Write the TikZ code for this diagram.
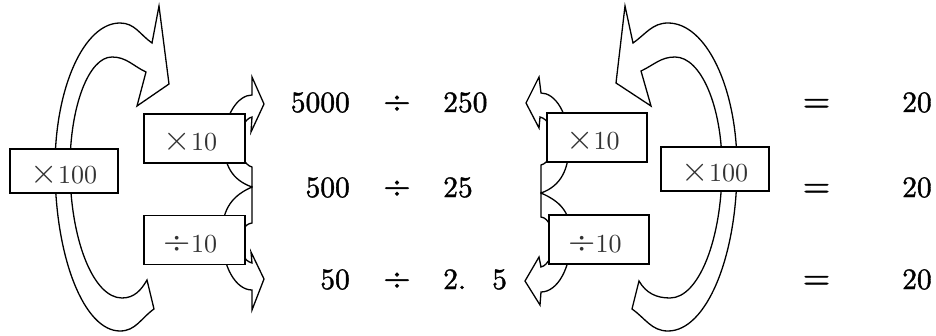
\documentclass[tikz,border=0pt]{standalone}
\usepackage{graphicx}
\usepackage{fontspec}
\newfontfamily\lmten{lmroman10-regular}[Extension=.otf]
\newfontfamily\lmnum{lmroman10-regular}[Extension=.otf, FakeBold=1.3]
\tikzset{
  box/.style={draw, fill=white, line width=1.5pt, inner sep=0pt, text height=25pt, text depth=0pt, font=\lmten\fontsize{26}{30}\selectfont, text=black!80},
  bigbox/.style={box, minimum width=108pt, minimum height=44pt},
  smallbox/.style={box, minimum width=101pt, minimum height=49pt},
  band/.style={draw, fill=white, line width=1.3pt, line join=miter},
  num/.style={inner sep=0pt, font=\lmnum\fontsize{29.5}{36}\selectfont},
}
\newcommand{\bigx}{\scalebox{1.35}{×}}
\newcommand{\bigdv}{\scalebox{1.35}{÷}}
\newcommand{\rowdv}{\scalebox{1.2}{÷}}
\newcommand{\roweq}{\scalebox{1.2}{=}}
\begin{document}
\begin{tikzpicture}[x=1pt,y=1pt]
\useasboundingbox (0,0) rectangle (936,335);

% big left arrow
\draw[band] (152,292) -- (159,329) -- (169,251) -- (137,229) -- (146,263)
  to[out=155,in=0] (112,278)
  .. controls (88.8,278) and (70,228.7) .. (70,168)
  .. controls (70,95.7) and (93.3,37) .. (122,37)
  to[out=0,in=240] (147,55)
  -- (154,26)
  to[out=215,in=0] (120,4)
  .. controls (84.1,4) and (55,77.5) .. (55,168)
  .. controls (55,247.5) and (84.1,312) .. (120,312)
  to[out=0,in=145] (152,292) -- cycle;

% big right arrow
\draw[band] (633,292) -- (625,329) -- (616,252) -- (651,229) -- (641,264)
  to[out=25,in=180] (675,278)
  .. controls (700.9,278) and (722,228.7) .. (722,168)
  .. controls (722,95.7) and (698.7,37) .. (670,37)
  to[out=180,in=-60] (639,54)
  -- (632,26)
  to[out=-35,in=180] (668,4)
  .. controls (706.1,4) and (737,77.5) .. (737,168)
  .. controls (737,247.5) and (706.1,312) .. (668,312)
  to[out=180,in=35] (633,292) -- cycle;

% small left arrows
\draw[band] (252,148) .. controls (232,155) and (224,170) .. (224,192)
  .. controls (224,220) and (238,240) .. (252,240)
  -- (252,258) -- (264,231) -- (251,203) -- (252,218)
  .. controls (236,214) and (236,172) .. (252,168) -- cycle;
\draw[band] (252,148) .. controls (234,140) and (222,128) .. (222,100)
  .. controls (222,68) and (236,45) .. (252,45)
  -- (252,25) -- (264,56) -- (251,83) -- (252,72)
  .. controls (236,76) and (236,110) .. (252,112) -- cycle;

% small right arrows
\draw[band] (541,142) .. controls (561,149) and (569,166) .. (569,190)
  .. controls (569,222) and (555,242) .. (541,242)
  -- (539,258) -- (526,232) -- (539,207) -- (540,218)
  .. controls (557,214) and (557,174) .. (541,170) -- cycle;
\draw[band] (541,142) .. controls (559,134) and (571,124) .. (571,98)
  .. controls (571,66) and (557,43) .. (541,43)
  -- (540,30) -- (525,54) -- (539,78) -- (541,68)
  .. controls (557,72) and (557,116) .. (541,118) -- cycle;

% boxes
\node[bigbox] (m100L) at (64,164) {\bigx100};
\node[smallbox] (m10L) at (194.5,196.5) {\bigx10\hspace*{8pt}};
\node[smallbox] (d10L) at (194.5,95) {\bigdv10\hspace*{8pt}};
\node[smallbox, minimum width=100pt] (m10R) at (597,197.5) {\bigx10\hspace*{8pt}};
\node[smallbox, minimum width=100pt] (d10R) at (599,95.5) {\bigdv10\hspace*{8pt}};
\node[bigbox] (m100R) at (715,166) {\bigx100};

% equations
\node[num, anchor=base east] (a1) at (350,223) {5000};
\node[num, anchor=base] (o1) at (397,223) {\rowdv};
\node[num, anchor=base west] (b1) at (443,223) {250};
\node[num, anchor=base] (e1) at (816.5,223) {\roweq};
\node[num, anchor=base west] (r1) at (902,223) {20};

\node[num, anchor=base east] (a2) at (350,138) {500};
\node[num, anchor=base] (o2) at (397,138) {\rowdv};
\node[num, anchor=base west] (b2) at (443,138) {25};
\node[num, anchor=base] (e2) at (816.5,138) {\roweq};
\node[num, anchor=base west] (r2) at (902,138) {20};

\node[num, anchor=base east] (a3) at (350,46) {50};
\node[num, anchor=base] (o3) at (397,46) {\rowdv};
\node[num, anchor=base west] (b3) at (443,46) {2.\hspace{26pt}5};
\node[num, anchor=base] (e3) at (816.5,46) {\roweq};
\node[num, anchor=base west] (r3) at (902,46) {20};
\end{tikzpicture}
\end{document}
